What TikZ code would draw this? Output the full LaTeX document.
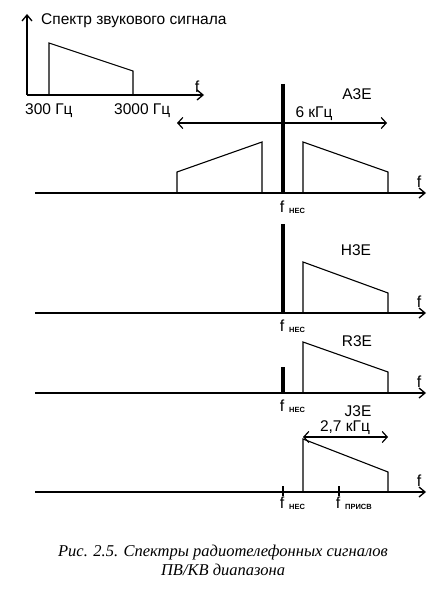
\documentclass[tikz,border=0pt]{standalone}
\usepackage{fontspec}
\setmainfont{Liberation Serif}
\newfontfamily\lsans{Liberation Sans}
\usetikzlibrary{arrows.meta}
\begin{document}
\begin{tikzpicture}[x=1pt,y=-1pt,
  axis/.style={line width=1.3pt,-{Straight Barb[length=6pt,width=10pt,line width=1.3pt]}},
  band/.style={line width=1.1pt},
  carrier/.style={line width=4pt},
  dim/.style={line width=1.2pt,{Straight Barb[length=5pt,width=11pt,line width=1.2pt]}-{Straight Barb[length=5pt,width=11pt,line width=1.2pt]}},
  lbl/.style={font=\lsans\fontsize{15.5}{17}\selectfont,inner sep=0pt},
  flbl/.style={font=\lsans\fontsize{16}{17}\selectfont,inner sep=0pt},
  sub/.style={font=\lsans\bfseries\fontsize{7.5}{8}\selectfont,inner sep=0pt},
  tick/.style={line width=1.2pt},
  captxt/.style={font=\itshape\fontsize{16.5}{19}\selectfont,inner sep=0pt}]
\useasboundingbox (0,0) rectangle (445,596);
% ---------- audio spectrum ----------
\coordinate (o0) at (27,95);
\draw[axis] (o0) -- (27,14);
\draw[axis] (o0) -- (204,95);
\draw[band] (49,95) -- (49,43) -- (133,71) -- (133,95);
\node[lbl,anchor=west] (t0) at (41,21) {Спектр звукового сигнала};
\node[flbl] (f0) at (197,87) {f};
\node[lbl,anchor=west] (l300) at (25,111) {300 Гц};
\node[lbl,anchor=west] (l3000) at (114,111) {3000 Гц};
% ---------- A3E ----------
\draw[axis] (35,193) -- (426,193);
\draw[carrier] (283,84) -- (283,193);
\draw[band] (177,193) -- (177,172) -- (262,142) -- (262,193);
\draw[band] (303,193) -- (303,142) -- (388,172) -- (388,193);
\draw[dim] (177,123) -- (387,123);
\node[lbl] (a3e) at (357,94) {A3E};
\node[lbl] (k6) at (314,114) {6 кГц};
\node[flbl] (f1) at (419,182) {f};
\node[flbl] (fn1) at (282,207) {f};
\node[sub,anchor=west] (s1) at (289,211) {НЕС};
% ---------- H3E ----------
\draw[axis] (35,313) -- (426,313);
\draw[carrier] (283,224) -- (283,313);
\draw[band] (303,313) -- (303,262) -- (388,293) -- (388,313);
\node[lbl] (h3e) at (356,250) {H3E};
\node[flbl] (f2) at (419,302) {f};
\node[flbl] (fn2) at (282,326) {f};
\node[sub,anchor=west] (s2) at (289,330) {НЕС};
% ---------- R3E ----------
\draw[axis] (35,393) -- (426,393);
\draw[carrier] (283,367) -- (283,393);
\draw[band] (303,393) -- (303,342) -- (388,372) -- (388,393);
\node[lbl] (r3e) at (357,341) {R3E};
\node[flbl] (f3) at (419,382) {f};
\node[flbl] (fn3) at (282,406) {f};
\node[sub,anchor=west] (s3) at (289,410) {НЕС};
% ---------- J3E ----------
\draw[axis] (35,492) -- (426,492);
\draw[band] (303,492) -- (303,439) -- (388,472) -- (388,492);
\draw[tick] (283,486) -- (283,496);
\draw[tick] (339,486) -- (339,496);
\draw[dim] (303,437) -- (388,437);
\node[lbl] (j3e) at (358,411) {J3E};
\node[lbl] (k27) at (345,428) {2,7 кГц};
\node[flbl] (f4) at (419,481) {f};
\node[flbl] (fn4) at (282,503) {f};
\node[sub,anchor=west] (s4) at (289,507) {НЕС};
\node[flbl] (fp) at (338,503) {f};
\node[sub,anchor=west] (sp) at (345,507) {ПРИСВ};
% ---------- caption ----------
\node[captxt] (c1) at (223,553) {Рис. 2.5. Спектры радиотелефонных сигналов};
\node[captxt] (c2) at (223,570) {ПВ/КВ диапазона};
\end{tikzpicture}
\end{document}
